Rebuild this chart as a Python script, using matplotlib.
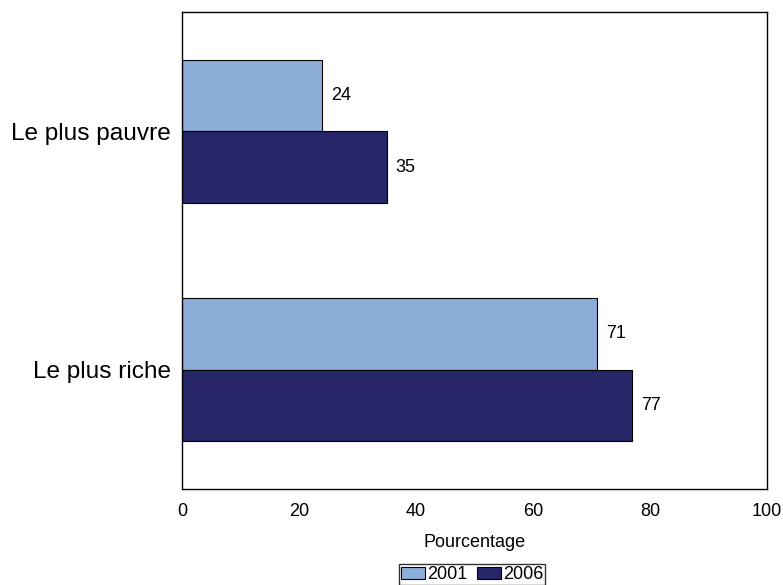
import numpy as np
import matplotlib.pyplot as plt

plt.rcParams['font.family'] = ['Liberation Sans', 'DejaVu Sans']

categories = ['Le plus pauvre', 'Le plus riche']
series = ['2001', '2006']
values_2001 = [24, 71]
values_2006 = [35, 77]
colors = ['#8dadd9', '#262669']

fig = plt.figure(figsize=(7.83, 5.85), dpi=100)
ax = fig.add_axes([0.2324, 0.1641, 0.747, 0.8154])

y = np.arange(len(categories))
h = 0.3
for vals, off, c, lab in [(values_2001, -h / 2, colors[0], series[0]),
                          (values_2006, h / 2, colors[1], series[1])]:
    bars = ax.barh(y + off, vals, height=h, color=c, edgecolor='black',
                   linewidth=0.8, label=lab)
    for b, v in zip(bars, vals):
        ax.text(v + 1.5, b.get_y() + b.get_height() / 2, str(v),
                va='center', ha='left', fontsize=13)

ax.set_xlim(0, 100)
ax.set_ylim(1.5, -0.5)
ax.set_yticks(y)
ax.set_yticklabels(categories, fontsize=17.6)
ax.set_xticks(np.arange(0, 101, 20))
ax.tick_params(axis='x', labelsize=13, length=0, pad=10)
ax.tick_params(axis='y', length=0, pad=8)
ax.set_xlabel('Pourcentage', fontsize=13, labelpad=10)
for s in ax.spines.values():
    s.set_linewidth(1.0)

leg = fig.legend(loc='lower center', bbox_to_anchor=(0.603, -0.003), ncol=2,
                 fontsize=13, frameon=True, fancybox=False, edgecolor='black',
                 handlelength=1.35, handleheight=0.6, handletextpad=0.1,
                 columnspacing=0.55, borderpad=0.1, borderaxespad=0.1)
leg.get_frame().set_linewidth(1.0)

fig.savefig('out.png', dpi=100)
